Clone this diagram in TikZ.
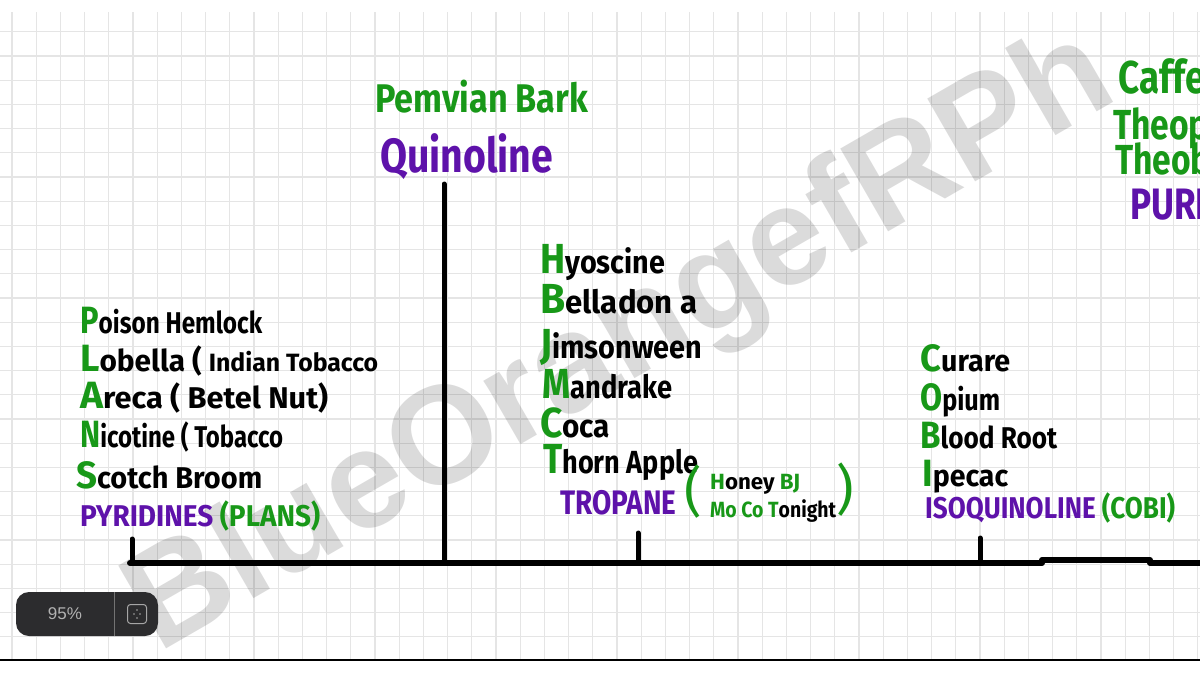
\documentclass[tikz,border=0pt]{standalone}
\usepackage{fontspec}
\usetikzlibrary{calc}
\setmainfont{Fira Sans}
\newfontfamily\wmfont{Liberation Sans}
\newfontfamily\uifont{Liberation Sans}
\definecolor{hgreen}{RGB}{24,152,24}
\definecolor{hpurple}{RGB}{94,18,170}
\definecolor{gridc}{RGB}{229,229,229}
\definecolor{badgec}{RGB}{44,44,46}
\newsavebox\wfbox
\newcommand\wfit[2]{\sbox\wfbox{#2}\pgfmathsetmacro\wfs{#1/\the\wd\wfbox}\scalebox{\wfs}[1]{\usebox\wfbox}}
\newcommand\ini[2][38]{{\color{hgreen}\fontsize{#1}{#1}\selectfont #2}}
\newcommand\gr[1]{{\color{hgreen}#1}}
\newcommand\pu[1]{{\color{hpurple}#1}}
\begin{document}
\begin{tikzpicture}[x=1pt,y=-1pt,
  item/.style={anchor=base west, inner sep=0pt, font=\bfseries\fontsize{30}{30}\selectfont},
  mitem/.style={item, font=\bfseries\fontsize{32}{32}\selectfont},
  small/.style={item, font=\bfseries\fontsize{22}{22}\selectfont},
  paren/.style={anchor=base west, inner sep=0pt, text=hgreen, font=\fontsize{54}{54}\selectfont},
  tline/.style={line width=6pt, line cap=round, black},
  tick/.style={line width=5pt, line cap=round, black},
  gridline/.style={gridc, line width=1.2pt},
  wm/.style={rotate=30, text=black, text opacity=0.14, inner sep=0pt, font=\wmfont\bfseries\fontsize{139}{139}\selectfont}
]
\useasboundingbox (0,0) rectangle (1200,675);
\fill[white] (0,0) rectangle (1200,675);
% grid paper
\foreach \i in {0,...,49} \draw[gridline] ({12+24.2*\i},12) -- ({12+24.2*\i},659);
\foreach \j in {0,...,25} \draw[gridline] (0,{31.7+24.2*\j}) -- (1200,{31.7+24.2*\j});
\draw[black, line width=1.6pt] (0,660) -- (1200,660);
% watermark
\node[wm] (wm) at (622,345) {BlueOrangefRPh};
% timeline
\coordinate (t0) at (130,563);
\coordinate (t1) at (1042,563);
\coordinate (t2) at (1042,560);
\coordinate (t3) at (1150,560);
\coordinate (t4) at (1150,563);
\coordinate (t5) at (1200,563);
\coordinate (k1top) at (132,539);
\coordinate (k1bot) at (132,563);
\coordinate (qtop) at (444,184);
\coordinate (qbot) at (444,563);
\coordinate (k2top) at (638,533);
\coordinate (k2bot) at (638,563);
\coordinate (k3top) at (980,538);
\coordinate (k3bot) at (980,563);
\draw[tline] (t0) -- (t1);
\draw[tline] (t2) -- (t3);
\draw[tline] (t4) -- (t5);
\draw[tick] (k1top) -- (k1bot);
\draw[tick] (qtop) -- (qbot);
\draw[tick] (k2top) -- (k2bot);
\draw[tick] (k3top) -- (k3bot);
% top labels
\node[item, text=hgreen, font=\bfseries\fontsize{40}{40}\selectfont] (bark) at (375,112) {\wfit{213}{Pemvian Bark}};
\node[item, text=hpurple, font=\bfseries\fontsize{48}{48}\selectfont] (quin) at (380,172) {\wfit{173}{Quinoline}};
% left column
\node[item] (l1) at (80,333) {\wfit{182}{\ini{P}oison Hemlock}};
\node[item] (l2) at (80,371) {\wfit{298}{\ini{L}obella ( {\fontsize{25}{25}\selectfont Indian Tobacco}}};
\node[item] (l3) at (80,408) {\wfit{248}{\ini{A}reca ( Betel Nut)}};
\node[item] (l4) at (80,447) {\wfit{203}{\ini{N}icotine ( Tobacco}};
\node[item] (l5) at (76,488) {\wfit{186}{\ini{S}cotch Broom}};
\node[item] (l6) at (80,526) {\wfit{240}{\pu{PYRIDINES} \gr{(PLANS)}}};
% middle column
\node[mitem] (m1) at (540,273) {\wfit{125}{\ini[42]{H}yoscine}};
\node[mitem] (m2) at (540,313) {\wfit{157}{\ini[42]{B}elladon a}};
\node[mitem] (m3) at (540,358) {\wfit{162}{\ini[42]{J}imsonween}};
\node[mitem] (m4) at (542,398) {\wfit{130}{\ini[42]{M}andrake}};
\node[mitem] (m5) at (540,437) {\wfit{70}{\ini[42]{C}oca}};
\node[mitem] (m6) at (543,473) {\wfit{155}{\ini[42]{T}horn Apple}};
\node[item, text=hpurple, font=\bfseries\fontsize{34}{34}\selectfont] (trop) at (560,514) {\wfit{116}{TROPANE}};
\node[paren] (po) at (684,510) {(};
\node[small] (honey) at (710,489) {\wfit{90}{\gr{H}oney \gr{BJ}}};
\node[small] (moco) at (710,517) {\wfit{126}{\gr{Mo} \gr{Co} \gr{T}onight}};
\node[paren] (pc) at (836,508) {)};
% right column
\node[item] (r1) at (920,371) {\wfit{90}{\ini{C}urare}};
\node[item] (r2) at (920,410) {\wfit{80}{\ini{O}pium}};
\node[item] (r3) at (920,448) {\wfit{137}{\ini{B}lood Root}};
\node[item] (r4) at (922,486) {\wfit{86}{\ini{I}pecac}};
\node[item] (r5) at (925,518) {\wfit{250}{\pu{ISOQUINOLINE} \gr{(COBI)}}};
% top right (cut by the edge)
\begin{scope}
\clip (0,0) rectangle (1200,675);
\node[item, text=hgreen, font=\bfseries\fontsize{46}{46}\selectfont] (caf) at (1118,93) {\scalebox{0.8}[1]{Caffeine}};
\node[item, text=hgreen, font=\bfseries\fontsize{42}{42}\selectfont] (tph) at (1113,139) {\scalebox{0.8}[1]{Theophylline}};
\node[item, text=hgreen, font=\bfseries\fontsize{42}{42}\selectfont] (tbr) at (1115,174) {\scalebox{0.8}[1]{Theobromine}};
\node[item, text=hpurple, font=\bfseries\fontsize{44}{44}\selectfont] (pur) at (1130,219) {\scalebox{0.8}[1]{PURINES}};
\end{scope}
% zoom badge
\node[fill=badgec, rounded corners=13pt, minimum width=142pt, minimum height=44pt, inner sep=0pt] (badge) at (87,614) {};
\node[inner sep=0pt, text=black!30, font=\uifont\fontsize{17}{17}\selectfont] (pct) at (65,614) {95\%};
\coordinate (dvt) at (114,592);
\coordinate (dvb) at (114,636);
\draw[black!55, line width=0.8pt] (dvt) -- (dvb);
\node[draw=black!35, line width=1pt, rounded corners=3pt, minimum width=19pt, minimum height=19pt, inner sep=0pt] (icon) at (137,614) {};
\foreach \dx/\dy in {0/-4,-3/0,3/0,0/4} \fill[black!35] ($(icon.center)+(\dx,\dy)$) circle (0.8pt);
\end{tikzpicture}
\end{document}
